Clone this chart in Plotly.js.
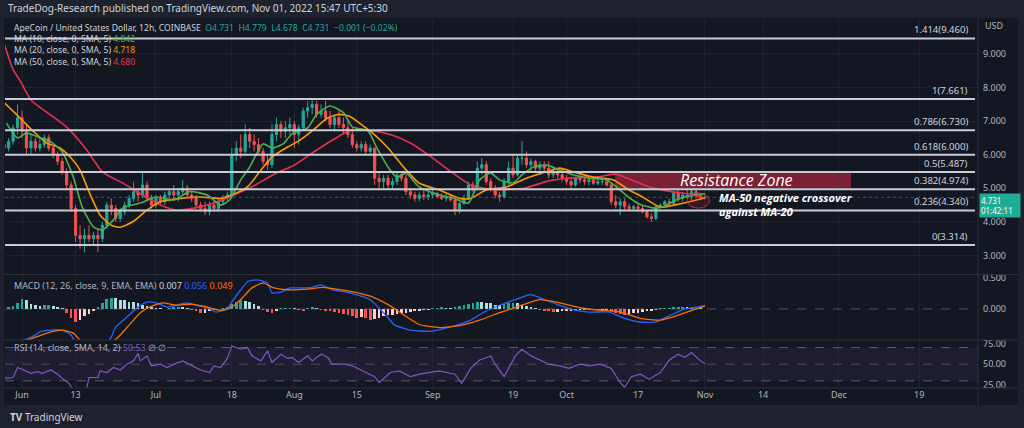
<!DOCTYPE html>
<html><head><meta charset="utf-8">
<script src="https://cdn.plot.ly/plotly-3.0.1.min.js"></script>
<style>html,body{margin:0;padding:0;background:#1e222d;}#chart{width:1024px;height:428px;}</style>
</head><body><div id="chart"></div>
<script>
// ---------- DATA ----------
const startDate = '2022-05-28';
const open = [6.3,6.2,6.4,6.8,
 7.1,6.7,6.2,6.4,6.2,6.3,6.5,6.2,6.0,5.8,5.5,5.1,4.4,3.6,3.5,3.6,3.5,3.6,3.5,3.9,4.5,4.4,4.1,4.3,4.5,4.7,4.9,4.8,5.1,4.7,
 4.5,4.7,4.6,4.8,4.9,4.8,4.9,5.0,4.8,4.7,4.5,4.4,4.3,4.5,4.4,4.6,4.7,4.8,6.0,6.2,6.1,6.6,6.4,6.3,6.1,5.8,5.7,6.6,6.9,6.7,6.8,
 6.9,6.6,6.8,7.3,7.4,7.5,7.2,7.3,7.1,6.9,7.1,6.9,6.8,6.6,6.3,6.2,6.3,6.1,6.2,5.3,5.2,5.3,5.1,5.2,5.4,5.3,4.9,4.8,4.7,4.8,4.75,
 4.8,4.85,4.75,4.7,4.75,4.65,4.35,4.55,4.7,5.1,5.0,5.6,5.7,5.2,5.0,4.8,4.75,5.2,5.6,5.4,5.9,5.9,5.7,5.8,5.6,5.7,5.6,5.4,5.5,5.4,
 5.3,5.2,5.1,5.3,5.25,5.2,5.25,5.15,5.2,5.2,5.1,4.6,4.5,4.6,4.45,4.4,4.45,4.4,4.3,4.15,4.1,4.45,4.5,4.6,4.55,4.85,4.7,4.8,4.75,4.9,4.8,
 4.731];
const high = [6.6,6.5,6.9,7.5,
 7.3,6.9,6.6,6.5,6.5,6.6,6.6,6.3,6.1,5.9,5.6,5.2,4.5,3.9,3.8,3.9,3.7,3.8,4.0,4.6,4.7,4.5,4.4,4.6,4.8,5.2,5.0,5.5,5.2,4.8,
 4.8,4.8,4.9,5.0,5.1,5.0,5.25,5.1,4.9,4.8,4.6,4.6,4.6,4.7,4.7,4.8,4.9,6.2,6.4,6.6,6.9,6.8,6.6,6.5,6.2,6.0,6.9,7.1,7.0,7.0,7.1,
 7.0,6.9,7.4,7.6,7.66,7.6,7.5,7.6,7.3,7.2,7.3,7.1,7.0,6.8,6.4,6.4,6.4,6.3,6.2,5.5,5.4,5.4,5.3,5.5,5.5,5.4,5.0,4.9,4.9,4.95,4.9,
 4.95,4.9,4.85,4.85,4.8,4.7,4.6,4.8,5.2,5.2,5.8,5.9,5.8,5.3,5.1,4.9,5.3,5.8,6.0,6.0,6.4,6.1,5.9,5.85,5.8,5.8,5.8,5.6,5.6,5.6,
 5.4,5.3,5.35,5.4,5.35,5.35,5.3,5.3,5.3,5.3,5.15,4.8,4.7,4.7,4.55,4.5,4.55,4.5,4.35,4.25,4.5,4.55,4.65,4.7,4.9,4.95,4.9,5.0,4.95,4.95,4.85,
 4.779];
const low = [6.0,6.1,6.3,6.6,
 6.5,6.0,6.0,6.1,6.1,6.2,6.1,5.9,5.7,5.4,5.0,4.3,3.4,3.2,3.1,3.4,3.3,3.1,3.4,3.8,4.2,4.0,4.0,4.2,4.4,4.6,4.6,4.7,4.6,4.4,
 4.4,4.5,4.5,4.6,4.7,4.6,4.8,4.7,4.6,4.4,4.3,4.2,4.2,4.3,4.3,4.5,4.6,4.7,5.8,5.9,6.0,6.2,6.1,6.0,5.7,5.55,5.6,6.4,6.5,6.5,6.6,
 6.2,6.3,6.7,7.1,7.2,7.1,7.1,7.0,6.8,6.7,6.8,6.6,6.5,6.2,6.1,6.1,6.0,6.0,5.1,5.0,5.0,5.0,4.95,5.1,5.2,4.8,4.7,4.6,4.6,4.65,4.65,
 4.7,4.7,4.65,4.6,4.6,4.2,4.25,4.5,4.65,4.9,4.95,5.4,5.1,4.9,4.7,4.6,4.7,5.1,5.3,5.35,5.7,5.6,5.5,5.5,5.4,5.5,5.3,5.3,5.3,5.2,
 5.1,5.0,5.05,5.15,5.1,5.1,5.1,5.1,5.1,5.05,4.5,4.4,4.2,4.35,4.35,4.35,4.3,4.25,4.1,4.0,4.05,4.4,4.45,4.5,4.5,4.6,4.6,4.7,4.65,4.7,4.65,
 4.678];
const close = [6.2,6.4,6.8,7.1,
 6.7,6.2,6.4,6.2,6.3,6.5,6.2,6.0,5.8,5.5,5.1,4.4,3.6,3.5,3.6,3.5,3.6,3.5,3.9,4.5,4.4,4.1,4.3,4.5,4.7,4.9,4.8,5.1,4.7,4.5,
 4.7,4.6,4.8,4.9,4.8,4.9,5.0,4.8,4.7,4.5,4.4,4.3,4.5,4.4,4.6,4.7,4.8,6.0,6.2,6.1,6.6,6.4,6.3,6.1,5.8,5.7,6.6,6.9,6.7,6.8,6.9,
 6.6,6.8,7.3,7.4,7.5,7.2,7.3,7.1,6.9,7.1,6.9,6.8,6.6,6.3,6.2,6.3,6.1,6.2,5.3,5.2,5.3,5.1,5.2,5.4,5.3,4.9,4.8,4.7,4.8,4.75,4.8,
 4.85,4.75,4.7,4.75,4.65,4.35,4.55,4.7,5.1,5.0,5.6,5.7,5.2,5.0,4.8,4.75,5.2,5.6,5.4,5.9,5.9,5.7,5.8,5.6,5.7,5.6,5.4,5.5,5.4,5.3,
 5.2,5.1,5.3,5.25,5.2,5.25,5.15,5.2,5.2,5.1,4.6,4.5,4.6,4.45,4.4,4.45,4.4,4.3,4.15,4.1,4.45,4.5,4.6,4.55,4.85,4.7,4.8,4.75,4.9,4.8,4.73,
 4.731];

const ma10Dates = ['2022-05-28 12:00','2022-05-31','2022-06-02','2022-06-04 12:00','2022-06-07 12:00','2022-06-10','2022-06-12 12:00','2022-06-14 12:00','2022-06-17','2022-06-19','2022-06-21 12:00','2022-06-23 12:00','2022-06-27 12:00','2022-07-01','2022-07-05','2022-07-08 12:00','2022-07-12 12:00','2022-07-15 12:00','2022-07-17 12:00','2022-07-20','2022-07-22','2022-07-25','2022-07-27','2022-07-29 12:00','2022-07-31 12:00','2022-08-04','2022-08-06','2022-08-09','2022-08-12','2022-08-14','2022-08-17 12:00','2022-08-19 12:00','2022-08-22','2022-08-24','2022-08-26','2022-08-29','2022-09-02 12:00','2022-09-05 12:00','2022-09-09','2022-09-11 12:00','2022-09-14','2022-09-16','2022-09-19','2022-09-21','2022-09-23 12:00','2022-09-26 12:00','2022-09-29 12:00','2022-10-02 12:00','2022-10-06','2022-10-10','2022-10-12 12:00','2022-10-15','2022-10-17 12:00','2022-10-20 12:00','2022-10-22 12:00','2022-10-25 12:00','2022-10-29 12:00','2022-11-01'];
const ma10Values = [6.94,6.50,6.65,6.53,6.38,6.08,5.33,4.44,3.85,3.76,4.06,4.41,4.56,4.74,4.65,4.90,4.80,4.50,4.65,5.25,5.63,6.32,6.20,6.32,6.62,6.80,7.20,7.45,7.25,6.83,6.71,6.20,5.63,5.33,5.45,5.04,4.80,4.71,4.56,5.25,5.45,5.25,5.16,5.40,5.63,5.69,5.54,5.40,5.30,5.25,5.00,4.72,4.52,4.41,4.44,4.65,4.80,4.84];

const ma20Dates = ['2022-05-28','2022-05-31 12:00','2022-06-03 12:00','2022-06-06 12:00','2022-06-09 12:00','2022-06-12','2022-06-14','2022-06-16','2022-06-18 12:00','2022-06-21','2022-06-23','2022-06-26','2022-06-29','2022-07-02','2022-07-06 12:00','2022-07-11','2022-07-15 12:00','2022-07-18','2022-07-21 12:00','2022-07-24 12:00','2022-07-27','2022-07-30 12:00','2022-08-02','2022-08-05','2022-08-08 12:00','2022-08-11','2022-08-13 12:00','2022-08-16','2022-08-18 12:00','2022-08-22','2022-08-25 12:00','2022-08-29','2022-09-02 12:00','2022-09-07','2022-09-09 12:00','2022-09-13','2022-09-17 12:00','2022-09-22','2022-09-26 12:00','2022-09-29 12:00','2022-10-02 12:00','2022-10-07','2022-10-11 12:00','2022-10-15','2022-10-17 12:00','2022-10-22','2022-10-25','2022-10-28 12:00','2022-11-01'];
const ma20Values = [7.55,7.10,6.70,6.35,6.20,5.90,5.54,4.90,4.20,3.90,3.84,4.02,4.35,4.60,4.70,4.74,4.70,4.80,5.04,5.54,5.93,6.23,6.41,6.71,7.10,7.20,7.14,6.90,6.65,6.20,5.63,5.15,4.95,4.70,4.70,4.95,5.04,5.30,5.49,5.60,5.49,5.33,5.25,4.95,4.78,4.44,4.50,4.60,4.72];

const ma50Dates = ['2022-05-28','2022-05-30','2022-05-31 12:00','2022-06-03','2022-06-06 12:00','2022-06-11','2022-06-15 12:00','2022-06-19','2022-06-23 12:00','2022-06-28','2022-07-02','2022-07-05 12:00','2022-07-09 12:00','2022-07-14','2022-07-18 12:00','2022-07-23','2022-07-27 12:00','2022-08-01','2022-08-05','2022-08-09 12:00','2022-08-13 12:00','2022-08-18','2022-08-22 12:00','2022-08-27','2022-08-31 12:00','2022-09-05','2022-09-09 12:00','2022-09-14','2022-09-18 12:00','2022-09-21 12:00','2022-09-27','2022-10-01','2022-10-08 12:00','2022-10-12','2022-10-19 12:00','2022-10-24 12:00','2022-10-29','2022-11-01'];
const ma50Values = [9.30,8.53,8.22,7.63,7.27,6.82,6.14,5.49,5.16,4.80,4.50,4.35,4.41,4.56,4.80,5.08,5.42,5.69,6.05,6.43,6.72,6.72,6.60,6.35,5.95,5.50,5.10,4.97,4.97,5.00,5.22,5.30,5.35,5.42,5.04,4.90,4.82,4.68];

const fibRatios = ['1.414','1','0.786','0.618','0.5','0.382','0.236','0'];
const fibPrices = [9.460,7.661,6.730,6.000,5.487,4.974,4.340,3.314];
const zoneLow = 5.00, zoneHigh = 5.46;
const zoneStart = '2022-10-11 20:00', zoneEnd = '2022-12-03 17:00';
const lastPrice = 4.731;

const macdDates = ['2022-05-28','2022-06-01 12:00','2022-06-04','2022-06-05','2022-06-07 12:00','2022-06-10','2022-06-12','2022-06-13','2022-06-16','2022-06-19 12:00','2022-06-21','2022-06-22','2022-06-24 12:00','2022-06-27','2022-06-29','2022-07-01','2022-07-03 12:00','2022-07-05 12:00','2022-07-08','2022-07-10','2022-07-12 12:00','2022-07-14 12:00','2022-07-17','2022-07-18','2022-07-20','2022-07-21 12:00','2022-07-23 12:00','2022-07-26','2022-07-27','2022-07-29','2022-07-31','2022-08-02','2022-08-05','2022-08-07','2022-08-09 12:00','2022-08-13 12:00','2022-08-18','2022-08-21 12:00','2022-08-23 12:00','2022-08-27','2022-08-31 12:00','2022-09-05','2022-09-09 12:00','2022-09-12 12:00','2022-09-16','2022-09-19 12:00','2022-09-23','2022-09-26','2022-09-29 12:00','2022-10-03','2022-10-06','2022-10-10 12:00','2022-10-14','2022-10-17 12:00','2022-10-21','2022-10-24','2022-10-27 12:00','2022-11-01'];
const macdValues = [-0.60,-0.50,-0.42,-0.37,-0.34,-0.34,-0.42,-0.55,-0.75,-0.60,-0.45,-0.29,-0.13,0.03,0.11,0.10,0.03,0.06,0.10,0.06,0.02,-0.05,0.00,0.11,0.31,0.44,0.47,0.42,0.26,0.27,0.34,0.34,0.35,0.39,0.31,0.26,0.15,-0.10,-0.26,-0.34,-0.36,-0.29,-0.18,-0.05,0.06,0.15,0.23,0.15,0.06,-0.02,-0.05,-0.05,-0.15,-0.21,-0.21,-0.11,0.00,0.056];

const signalDates = ['2022-05-28','2022-06-03','2022-06-07 12:00','2022-06-10','2022-06-12 12:00','2022-06-14','2022-06-17 12:00','2022-06-21','2022-06-23','2022-06-25','2022-06-27 12:00','2022-06-29 12:00','2022-07-02 12:00','2022-07-05 12:00','2022-07-09','2022-07-12 12:00','2022-07-15 12:00','2022-07-18','2022-07-20 12:00','2022-07-22 12:00','2022-07-25','2022-07-27','2022-07-30 12:00','2022-08-04','2022-08-07 12:00','2022-08-10 12:00','2022-08-14 12:00','2022-08-19','2022-08-22 12:00','2022-08-26','2022-08-29','2022-09-02 12:00','2022-09-07','2022-09-11 12:00','2022-09-16','2022-09-20 12:00','2022-09-25','2022-09-29 12:00','2022-10-04','2022-10-08 12:00','2022-10-13','2022-10-17 12:00','2022-10-22','2022-10-26','2022-11-01'];
const signalValues = [-0.55,-0.48,-0.37,-0.34,-0.39,-0.50,-0.65,-0.55,-0.42,-0.26,-0.06,0.03,0.10,0.06,0.08,0.03,-0.02,0.03,0.19,0.34,0.42,0.35,0.31,0.32,0.35,0.32,0.27,0.18,0.05,-0.12,-0.25,-0.30,-0.27,-0.18,-0.06,0.05,0.15,0.10,0.02,-0.02,-0.05,-0.15,-0.18,-0.10,0.049];

const macdHist = [0.02,0.03,0.05, 0.10,0.16,0.14, 0.08,0.06,0.05, 0.06,0.07,0.05, 0.03,0.01,
 -0.06,-0.14,-0.21,-0.18,-0.12, -0.08,-0.04,
 0.04,0.10,0.16,0.18,0.17,0.15,0.14,0.12,0.11,0.09,0.07,
 0.05,0.03,0.02,0.01,0.00, 0.02,0.04,0.04,0.03,0.02, -0.02,-0.04,-0.07,-0.06,-0.04, -0.02,0.00,0.02,0.04,
 0.08,0.12,0.15, 0.13,0.11,0.08,0.05, -0.02,-0.05,-0.06,-0.03, 0.01,0.02,0.02,0.01,
 -0.02,-0.03, 0.02,0.04, 0.02,-0.01,-0.03,-0.04, -0.05,-0.06,-0.08,-0.10,
 -0.12,-0.14,-0.13,-0.15,-0.18,-0.16,-0.14,-0.12,-0.10, -0.09,-0.08,-0.07,-0.06,-0.05,-0.04,-0.03,-0.02,
 -0.01,0.01,0.02,0.03, 0.02,0.01,0.03,0.05, 0.07,0.08,0.10,0.12,0.11,0.10,0.09, 0.07,0.06,0.08,0.10,
 0.10,0.09,0.07,0.05,0.03,0.01, -0.01,-0.03,-0.04,-0.05,-0.05,-0.04,
 -0.03,-0.03,-0.02,-0.02,-0.01,-0.01,-0.02,-0.02,-0.01,-0.01, -0.03,-0.06,-0.08,-0.09,-0.08,-0.07,-0.06,-0.05,
 -0.04,-0.03,-0.01,0.01,0.02, 0.02,0.03,0.03,0.04,0.03,0.02,0.02,0.01,0.007];

const rsiDates = ['2022-05-28','2022-05-28 12:00','2022-05-30','2022-05-31','2022-06-01','2022-06-03','2022-06-04 12:00','2022-06-05 12:00','2022-06-07 12:00','2022-06-09','2022-06-10','2022-06-11 12:00','2022-06-12 12:00','2022-06-14','2022-06-15 12:00','2022-06-16','2022-06-18','2022-06-18 12:00','2022-06-20','2022-06-21 12:00','2022-06-23','2022-06-24 12:00','2022-06-26','2022-06-27','2022-06-27 12:00','2022-06-29','2022-06-30','2022-07-02','2022-07-03 12:00','2022-07-05','2022-07-07','2022-07-08 12:00','2022-07-11','2022-07-13','2022-07-14','2022-07-15 12:00','2022-07-17','2022-07-18','2022-07-20','2022-07-21 12:00','2022-07-22 12:00','2022-07-24 12:00','2022-07-26','2022-07-27','2022-07-29','2022-07-30 12:00','2022-07-31 12:00','2022-08-02','2022-08-04','2022-08-05','2022-08-07','2022-08-08 12:00','2022-08-09 12:00','2022-08-12 12:00','2022-08-14 12:00','2022-08-17','2022-08-19','2022-08-20','2022-08-22 12:00','2022-08-24 12:00','2022-08-27','2022-08-29','2022-08-31 12:00','2022-09-02 12:00','2022-09-06','2022-09-07 12:00','2022-09-09 12:00','2022-09-11 12:00','2022-09-14','2022-09-15','2022-09-17','2022-09-19 12:00','2022-09-21','2022-09-23','2022-09-25','2022-09-27','2022-09-29 12:00','2022-10-01 12:00','2022-10-04','2022-10-06','2022-10-08 12:00','2022-10-11','2022-10-13','2022-10-14','2022-10-15 12:00','2022-10-17 12:00','2022-10-19 12:00','2022-10-22','2022-10-24','2022-10-26','2022-10-27 12:00','2022-10-29','2022-10-31','2022-11-01'];
const rsiValues = [35,33,34,46,44,39,41,39,43,38,33,27,19,16,21,34,34,42,40,46,43,50,54,63,54,60,48,50,46,50,54,50,43,40,48,46,57,72,68,70,60,54,66,52,62,57,58,52,60,54,62,58,50,50,47,40,35,28,40,42,35,38,40,42,38,27,45,55,60,50,35,60,68,60,55,50,48,45,50,48,50,45,28,22,35,38,32,40,55,62,58,64,54,50.53];

const timeTickDates = ['2022-06-01','2022-06-13','2022-07-01','2022-07-18','2022-08-01','2022-08-15','2022-09-01','2022-09-19','2022-10-01','2022-10-17','2022-11-01','2022-11-14','2022-12-01','2022-12-19'];
const timeTickText = ['Jun','13','Jul','18','Aug','15','Sep','19','Oct','17','Nov','14','Dec','19'];
const priceTicks = [3,4,5,6,7,8,9];
const macdTicks = [0,0.5];
const rsiTicks = [25,50,75];

// ---------- BUILD ----------
function dayList(start, n){
  const out=[]; const t0=Date.parse(start+'T00:00:00Z');
  for(let i=0;i<n;i++){ out.push(new Date(t0+i*86400000).toISOString().slice(0,10)); }
  return out;
}
const days = dayList(startDate, close.length);
const histColors = macdHist.map((v,i)=>{
  const prev = i>0 ? macdHist[i-1] : v;
  if (v >= 0) return v >= prev ? '#26a69a' : '#b2dfdb';
  return v < prev ? '#ff5252' : '#ffcdd2';
});

const UP='#26a69a', DN='#ef5350';
const traces = [
  {type:'candlestick', x:days, open:open, high:high, low:low, close:close, xaxis:'x', yaxis:'y',
   increasing:{line:{color:UP,width:1}, fillcolor:UP}, decreasing:{line:{color:DN,width:1}, fillcolor:DN},
   whiskerwidth:0, hoverinfo:'skip'},
  {type:'scatter', mode:'lines', x:ma50Dates, y:ma50Values, xaxis:'x', yaxis:'y', line:{color:'#e8304f', width:1.6, shape:'spline', smoothing:0.6}, hoverinfo:'skip'},
  {type:'scatter', mode:'lines', x:ma20Dates, y:ma20Values, xaxis:'x', yaxis:'y', line:{color:'#ff9800', width:1.6, shape:'spline', smoothing:0.6}, hoverinfo:'skip'},
  {type:'scatter', mode:'lines', x:ma10Dates, y:ma10Values, xaxis:'x', yaxis:'y', line:{color:'#4caf50', width:1.6, shape:'spline', smoothing:0.6}, hoverinfo:'skip'},
  {type:'bar', x:days, y:macdHist, xaxis:'x', yaxis:'y2', marker:{color:histColors, line:{width:0}}, width:0.6*86400000, hoverinfo:'skip'},
  {type:'scatter', mode:'lines', x:macdDates, y:macdValues, xaxis:'x', yaxis:'y2', line:{color:'#2962ff', width:1.3, shape:'spline', smoothing:0.5}, hoverinfo:'skip'},
  {type:'scatter', mode:'lines', x:signalDates, y:signalValues, xaxis:'x', yaxis:'y2', line:{color:'#ff6d00', width:1.3, shape:'spline', smoothing:0.5}, hoverinfo:'skip'},
  {type:'scatter', mode:'lines', x:rsiDates, y:rsiValues, xaxis:'x', yaxis:'y3', line:{color:'#7e57c2', width:1.2}, hoverinfo:'skip'}
];

// pixel -> paper helpers (plot area: x 5..978, y 20..388)
const px = x => (x-5)/973;
const py = y => (388-y)/368;

const GRID='rgba(54,58,69,0.35)';
const shapes = [
  {type:'rect', xref:'paper', yref:'paper', x0:px(4), x1:px(1018), y0:py(405), y1:py(18), fillcolor:'#131722', line:{width:0}, layer:'below'},
  {type:'rect', xref:'paper', yref:'y3', x0:0, x1:1, y0:30, y1:70, fillcolor:'rgba(126,87,194,0.10)', line:{width:0}, layer:'below'},
  {type:'line', xref:'paper', yref:'y3', x0:0, x1:1, y0:70, y1:70, line:{color:'rgba(120,123,134,0.7)', width:1, dash:'dash'}},
  {type:'line', xref:'paper', yref:'y3', x0:0, x1:1, y0:50, y1:50, line:{color:'rgba(120,123,134,0.5)', width:1, dash:'dash'}},
  {type:'line', xref:'paper', yref:'y3', x0:0, x1:1, y0:30, y1:30, line:{color:'rgba(120,123,134,0.7)', width:1, dash:'dash'}},
  {type:'line', xref:'paper', yref:'y2', x0:0, x1:1, y0:0, y1:0, line:{color:'rgba(120,123,134,0.6)', width:1, dash:'dash'}},
  {type:'rect', xref:'x', yref:'y', x0:zoneStart, x1:zoneEnd, y0:zoneLow, y1:zoneHigh, fillcolor:'rgba(165,38,58,0.72)', line:{width:0}, layer:'below'},
  {type:'line', xref:'paper', yref:'y', x0:0, x1:1, y0:lastPrice, y1:lastPrice, line:{color:'rgba(38,166,154,0.55)', width:1, dash:'dot'}},
  {type:'circle', xref:'x', yref:'y', x0:'2022-10-28', x1:'2022-11-02', y0:4.41, y1:4.86, line:{color:'rgba(220,50,75,0.85)', width:1}, fillcolor:'rgba(200,40,60,0.18)'},
  // pane separators / frame
  {type:'line', xref:'paper', yref:'paper', x0:px(4), x1:px(1018), y0:py(274.5), y1:py(274.5), line:{color:'#2a2e39', width:1}},
  {type:'line', xref:'paper', yref:'paper', x0:px(4), x1:px(1018), y0:py(340), y1:py(340), line:{color:'#2a2e39', width:1}},
  {type:'line', xref:'paper', yref:'paper', x0:px(4), x1:px(1018), y0:py(388), y1:py(388), line:{color:'#2a2e39', width:1}},
  {type:'line', xref:'paper', yref:'paper', x0:1, x1:1, y0:py(405), y1:py(18), line:{color:'#2a2e39', width:1}}
];
fibPrices.forEach(p => shapes.push({type:'line', xref:'paper', yref:'y', x0:0, x1:px(975), y0:p, y1:p, line:{color:'#c9ccd4', width:2}}));

const TXT='#d1d4dc';
const legendText = [
  'ApeCoin / United States Dollar, 12h, COINBASE  <span style="color:#26a69a">O4.731  H4.779  L4.678  C4.731  −0.001 (−0.02%)</span>',
  'MA (10, close, 0, SMA, 5) <span style="color:#4caf50">4.842</span>',
  'MA (20, close, 0, SMA, 5) <span style="color:#ff9800">4.718</span>',
  'MA (50, close, 0, SMA, 5) <span style="color:#f23645">4.680</span>'
].join('<br>');
const annotations = [
  {xref:'paper', yref:'paper', x:px(6), y:py(8), xanchor:'left', yanchor:'middle', showarrow:false,
   text:'TradeDog-Research published on TradingView.com, Nov 01, 2022 15:47 UTC+5:30', font:{size:10, color:TXT}},
  {xref:'paper', yref:'paper', x:px(12), y:py(20), xanchor:'left', yanchor:'top', showarrow:false, align:'left',
   text:legendText, font:{size:8.6, color:TXT}},
  {xref:'paper', yref:'paper', x:px(12), y:py(285), xanchor:'left', yanchor:'middle', showarrow:false,
   text:'MACD (12, 26, close, 9, EMA, EMA) <span style="color:#d1d4dc">0.007</span> <span style="color:#2962ff">0.056</span> <span style="color:#ff6d00">0.049</span>', font:{size:9, color:'#b2b5be'}},
  {xref:'paper', yref:'paper', x:px(12), y:py(347), xanchor:'left', yanchor:'middle', showarrow:false,
   text:'RSI (14, close, SMA, 14, 2) <span style="color:#7e57c2">50.53</span> ∅ ∅', font:{size:9, color:'#b2b5be'}},
  {xref:'paper', yref:'paper', x:px(983), y:py(26), xanchor:'left', yanchor:'middle', showarrow:false,
   text:'USD', font:{size:9, color:'#b2b5be'}},
  {xref:'paper', yref:'paper', x:px(8), y:py(417), xanchor:'left', yanchor:'middle', showarrow:false,
   text:'<b>TV</b> TradingView', font:{size:10, color:TXT}},
  {xref:'x', yref:'y', x:'2022-11-07 23:00', y:5.24, xanchor:'center', yanchor:'middle', showarrow:false,
   text:'<i>Resistance Zone</i>', font:{size:16, color:'#ffffff', family:'Open Sans, sans-serif'}},
  {xref:'x', yref:'y', x:'2022-11-03 17:00', y:4.53, xanchor:'left', yanchor:'middle', showarrow:false, align:'left',
   text:'<b><i>MA-50 negative crossover<br>against MA-20</i></b>', font:{size:11, color:'#ffffff', family:'Open Sans, sans-serif'}},
  {xref:'paper', yref:'y', x:1.001, y:lastPrice, xanchor:'left', yanchor:'top', yshift:4, showarrow:false, align:'left',
   text:'4.731<br>01:42:11', font:{size:8, color:'#ffffff'}, bgcolor:'#22ab94', borderpad:1, width:38}
];
fibPrices.forEach((p,i) => annotations.push({xref:'paper', yref:'y', x:px(970), y:p, xanchor:'right', yanchor:'bottom', yshift:0,
  showarrow:false, text:fibRatios[i]+'('+p.toFixed(3)+')', font:{size:9.5, color:TXT}}));

const yCommon = {side:'right', anchor:'x', showgrid:true, gridcolor:GRID, zeroline:false, ticks:'', showline:false,
  tickfont:{size:9, color:'#b2b5be'}, fixedrange:true, ticklabelstandoff:4, automargin:false};

const layout = {
  width:1024, height:428,
  margin:{l:5, r:46, t:20, b:40, pad:0},
  paper_bgcolor:'#1e222d', plot_bgcolor:'rgba(0,0,0,0)',
  showlegend:false, hovermode:false, bargap:0,
  font:{family:'Noto Sans, sans-serif', size:9, color:'#b2b5be'},
  xaxis:{type:'date', range:['2022-05-28 04:34','2023-01-01 03:50'], anchor:'y3', rangeslider:{visible:false},
    tickmode:'array', tickvals:timeTickDates, ticktext:timeTickText, showgrid:true, gridcolor:GRID, ticks:'',
    zeroline:false, showline:false, tickfont:{size:9, color:'#b2b5be'}, fixedrange:true, automargin:false},
  yaxis:Object.assign({}, yCommon, {domain:[py(274), 1], range:[2.449, 10.009], tickmode:'array', tickvals:priceTicks, ticktext:priceTicks.map(v=>v.toFixed(3))}),
  yaxis2:Object.assign({}, yCommon, {domain:[py(340), py(275)], range:[-0.5, 0.548], tickmode:'array', tickvals:macdTicks, ticktext:macdTicks.map(v=>v.toFixed(3)), showgrid:false}),
  yaxis3:Object.assign({}, yCommon, {domain:[0, py(341)], range:[21.4, 77.9], tickmode:'array', tickvals:rsiTicks, ticktext:rsiTicks.map(v=>v.toFixed(2)), showgrid:false}),
  shapes:shapes, annotations:annotations
};

Plotly.newPlot('chart', traces, layout, {displayModeBar:false, staticPlot:true});
</script></body></html>
